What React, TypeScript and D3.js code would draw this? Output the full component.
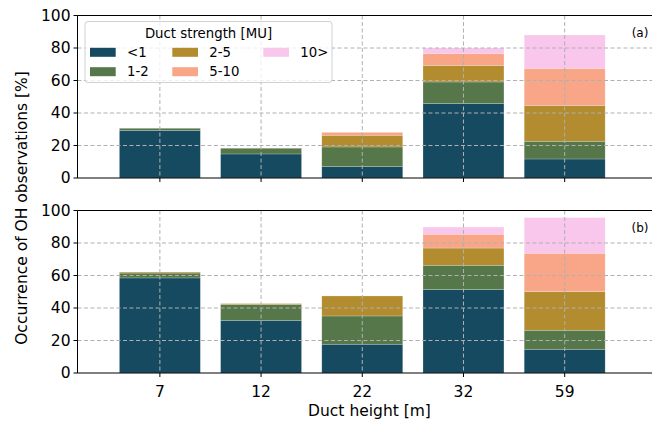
import React from "react";
import * as d3 from "d3";

const categories = ["7", "12", "22", "32", "59"];
const seriesNames = ["<1", "1-2", "2-5", "5-10", "10>"];
const seriesColors = ["#164a61", "#56774a", "#b28c2f", "#f8a687", "#f9c6ec"];
const yTicks = [0, 20, 40, 60, 80, 100];

// Panel (a) segment heights per series
const aLt1 = [29.3, 14.8, 7.0, 45.8, 11.7];
const a1to2 = [1.3, 3.5, 12.1, 13.3, 10.9];
const a2to5 = [0, 0, 7.2, 10.2, 22.1];
const a5to10 = [0, 0, 1.8, 7.4, 22.8];
const a10up = [0, 0, 0, 3.3, 20.5];

// Panel (b) segment heights per series
const bLt1 = [58.5, 32.4, 17.7, 51.3, 14.6];
const b1to2 = [3.0, 9.7, 17.4, 15.0, 11.7];
const b2to5 = [0.6, 0.6, 12.3, 10.6, 23.8];
const b5to10 = [0, 0, 0, 8.5, 23.6];
const b10up = [0, 0, 0, 4.4, 21.9];

const panelA = [aLt1, a1to2, a2to5, a5to10, a10up];
const panelB = [bLt1, b1to2, b2to5, b5to10, b10up];

const W = 652, H = 421;
const left = 77.5, right = 660;
const font = "DejaVu Sans, sans-serif";
const tickFs = 15.5;

const x = d3.scaleLinear().domain([-0.814, 4.9]).range([left, left + (4.9 + 0.814) * 101.2]);

function Panel({ data, top, bottom, label, showXLabels }: any) {
  const y = d3.scaleLinear().domain([0, 100]).range([bottom, top]);
  const stacked = categories.map((_, i) => {
    let acc = 0;
    return data.map((s: number[], k: number) => {
      const y0 = acc;
      acc += s[i];
      return { k, y0, y1: acc };
    });
  });
  const bw = x(0.4) - x(-0.4);
  return (
    <g>
      {stacked.map((segs, i) =>
        segs.filter((d: any) => d.y1 > d.y0).map((d: any) => (
          <rect key={i + "-" + d.k} x={x(i) - bw / 2} width={bw} y={y(d.y1)} height={y(d.y0) - y(d.y1)}
            fill={seriesColors[d.k]} stroke="#ffffff" strokeOpacity={0.35} strokeWidth={0.6} />
        ))
      )}
      {yTicks.slice(1).map((t) => (
        <line key={"gy" + t} x1={left} x2={right} y1={y(t)} y2={y(t)} stroke="#b0b0b0" strokeWidth={1} strokeDasharray="4,2.5" />
      ))}
      {categories.map((c, i) => (
        <line key={"gx" + c} x1={x(i)} x2={x(i)} y1={top} y2={bottom} stroke="#b0b0b0" strokeWidth={1} strokeDasharray="4,2.5" />
      ))}
      <line x1={left} x2={right} y1={top} y2={top} stroke="#000" strokeWidth={1} />
      <line x1={left} x2={right} y1={bottom} y2={bottom} stroke="#000" strokeWidth={1} />
      <line x1={left} x2={left} y1={top} y2={bottom} stroke="#000" strokeWidth={1} />
      {yTicks.map((t) => (
        <g key={"yt" + t}>
          <line x1={left - 4} x2={left} y1={y(t)} y2={y(t)} stroke="#000" strokeWidth={1} />
          <text x={left - 7} y={y(t)} dy="0.35em" textAnchor="end" fontSize={tickFs} fontFamily={font} fill="#000">{t}</text>
        </g>
      ))}
      {categories.map((c, i) => (
        <g key={"xt" + c}>
          <line x1={x(i)} x2={x(i)} y1={bottom} y2={bottom + 4} stroke="#000" strokeWidth={1} />
          {showXLabels && (
            <text x={x(i)} y={bottom + 18.5} dy="0.35em" textAnchor="middle" fontSize={tickFs} fontFamily={font} fill="#000">{c}</text>
          )}
        </g>
      ))}
      <text x={640} y={top + 17} dy="0.35em" textAnchor="middle" fontSize={12} fontFamily={font} fill="#000">{label}</text>
    </g>
  );
}

function Legend() {
  const bx = 85, by = 21.5, bwid = 247, bht = 61;
  const cols = [[0, 1], [2, 3], [4]];
  const colX = [90, 172.3, 263.3];
  const rowY = [52.3, 71.7];
  return (
    <g>
      <rect x={bx} y={by} width={bwid} height={bht} rx={3} fill="#fff" fillOpacity={0.8} stroke="#d0d0d0" strokeWidth={1} />
      <text x={bx + bwid / 2} y={33.5} dy="0.35em" textAnchor="middle" fontSize={13.3} fontFamily={font} fill="#000">Duct strength [MU]</text>
      {cols.map((col, ci) =>
        col.map((k, ri) => (
          <g key={k}>
            <rect x={colX[ci]} y={rowY[ri] - 4.5} width={25.7} height={9} fill={seriesColors[k]} />
            <text x={colX[ci] + 37} y={rowY[ri]} dy="0.35em" fontSize={13.3} fontFamily={font} fill="#000">{seriesNames[k]}</text>
          </g>
        ))
      )}
    </g>
  );
}

export default function App() {
  return (
    <svg width={W} height={H} style={{ position: "absolute", left: 0, top: 0, background: "#fff" }}>
      <Panel data={panelA} top={15.5} bottom={178} label="(a)" showXLabels={false} />
      <Panel data={panelB} top={210.5} bottom={373} label="(b)" showXLabels={true} />
      <Legend />
      <text transform={`translate(22,208) rotate(-90)`} textAnchor="middle" dy="0.35em" fontSize={15.5} fontFamily={font} fill="#000">Occurrence of OH observations [%]</text>
      <text x={369.5} y={411} dy="0.35em" textAnchor="middle" fontSize={15.5} fontFamily={font} fill="#000">Duct height [m]</text>
    </svg>
  );
}
